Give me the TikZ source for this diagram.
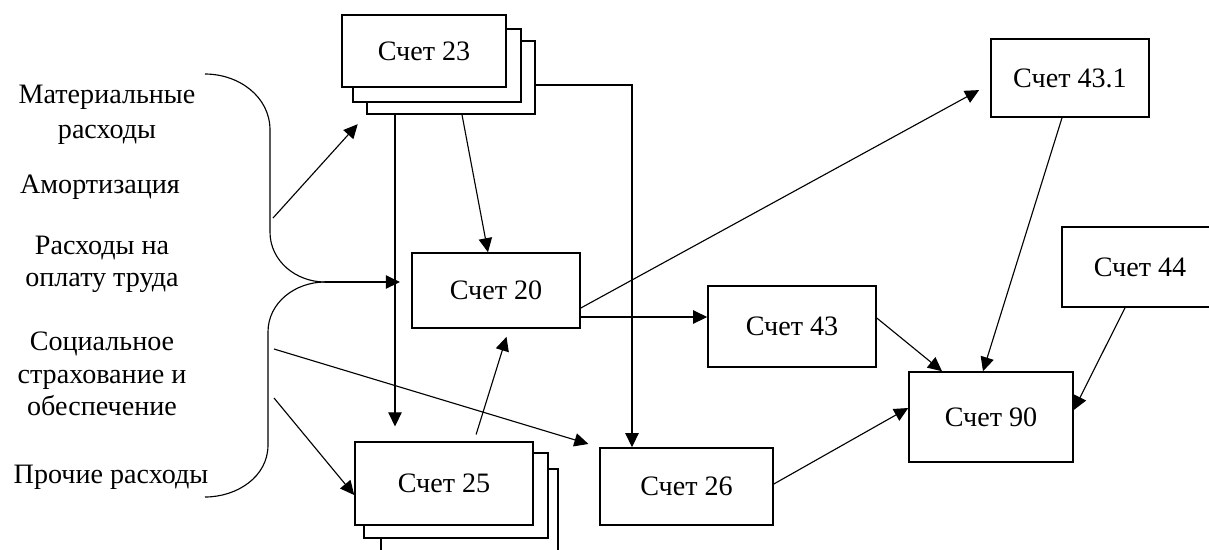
\documentclass[tikz,border=0pt]{standalone}
\usepackage{fontspec}
\setmainfont{Liberation Serif}
\usepackage{tikz}
\usetikzlibrary{arrows.meta}

\tikzset{
  schet/.style={draw, line width=1.1pt, fill=white, inner sep=0pt,
    font=\fontsize{20}{24}\selectfont},
  stat/.style={align=center, inner sep=0pt, font=\fontsize{20}{23}\selectfont},
  arr/.style={line width=0.8pt, -{Triangle[length=10pt,width=9.5pt]}},
}

\begin{document}
\begin{tikzpicture}[x=0.025cm, y=-0.025cm]
  \useasboundingbox (0,0) rectangle (1209,549);
  \clip (0,0) rectangle (1209,549);

  % Cost items
  \node[stat] (mat) at (107,115) {Материальные\\[2pt]расходы};
  \node[stat] (amort) at (100,187) {Амортизация};
  \node[stat] (trud) at (102,264) {Расходы на\\оплату труда};
  \node[stat] (soc) at (102,374) {Социальное\\страхование и\\обеспечение};
  \node[stat] (proch) at (111,477) {Прочие расходы};

  % Brace
  \draw[line width=0.8pt] (205,74) to[out=0,in=90] (270,130) -- (270,232) to[out=-90,in=180] (325,282);
  \draw[line width=0.8pt] (325,282) to[out=180,in=90] (268,332) -- (268,445) to[out=-90,in=0] (205,497);
  \coordinate (bt) at (325,282);
  \coordinate (b1) at (273,218);
  \coordinate (b2) at (274,349);
  \coordinate (b3) at (274,398);

  % Accounts
  \node[schet, minimum width=4.2cm, minimum height=1.825cm] (s23c) at (451,77.5) {};
  \node[schet, minimum width=4.2cm, minimum height=1.825cm] (s23b) at (437,65.5) {};
  \node[schet, minimum width=4.1cm, minimum height=1.8cm] (s23a) at (424,51) {Счет 23};
  \node[schet, minimum width=4.2cm, minimum height=1.875cm] (s20) at (496,290.5) {Счет 20};
  \node[schet, minimum width=4.425cm, minimum height=2.275cm] (s25c) at (469.5,514.5) {};
  \node[schet, minimum width=4.6cm, minimum height=2.125cm] (s25b) at (456,495.5) {};
  \node[schet, minimum width=4.45cm, minimum height=2.075cm] (s25a) at (444,483.5) {Счет 25};
  \node[schet, minimum width=4.325cm, minimum height=1.925cm] (s26) at (686.5,486.5) {Счет 26};
  \node[schet, minimum width=3.95cm, minimum height=1.95cm] (s431) at (1070,78) {Счет 43.1};
  \node[schet, minimum width=4.2cm, minimum height=2.025cm] (s43) at (792,326.5) {Счет 43};
  \node[schet, minimum width=4.1cm, minimum height=2.25cm] (s90) at (991,417) {Счет 90};
  \node[schet, minimum width=3.9cm, minimum height=2cm] (s44) at (1140,267) {Счет 44};

  % Flows
  \draw[arr, shorten >=8pt] (bt) -- (s20.west |- bt);
  \draw[arr, shorten >=9pt] (b1) -- (s23c.south west);
  \draw[arr, shorten >=8pt] (b2) -- (s26.north west);
  \draw[arr] (b3) -- (s25a.west |- 0,495);
  \draw[arr, shorten >=10.5pt] (s23c.south -| 395,0) -- (s25a.north -| 395,0);
  \draw[arr] (s23c.south -| 462,0) -- (s20.north -| 488,0);
  \draw[arr] (s23c.east |- 0,85) -| (s26.north -| 632,0);
  \draw[arr, shorten <=5pt, shorten >=6pt] (s25a.north -| 474,0) -- (s20.south -| 509,0);
  \draw[arr, shorten >=9pt] (s20.east |- 0,308) -- (s431.west |- 0,84);
  \draw[arr] (s20.east |- 0,317) -- (s43.west |- 0,317);
  \draw[arr] (s43.east |- 0,318) -- (s90.north -| 942,0);
  \draw[arr] (s431.south -| 1062,0) -- (s90.north -| 983,0);
  \draw[arr] (s44.south -| 1125,0) -- (s90.east |- 0,410);
  \draw[arr] (s26.east |- 0,484) -- (s90.west |- 0,408);
\end{tikzpicture}
\end{document}
